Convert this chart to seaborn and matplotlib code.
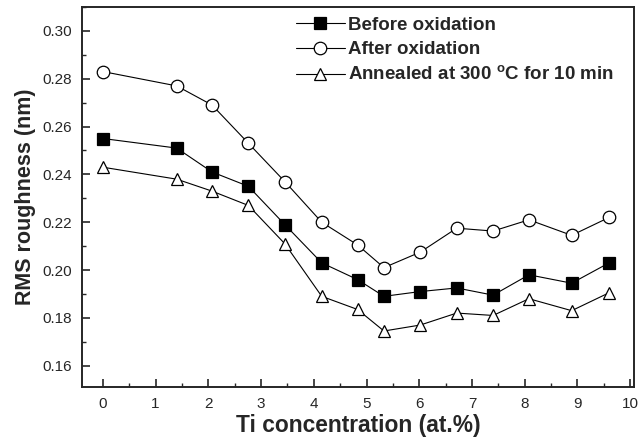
import matplotlib
matplotlib.use("Agg")
import matplotlib.pyplot as plt
import seaborn as sns
import pandas as pd
from matplotlib.ticker import MultipleLocator

ti = [0, 1.4, 2.07, 2.76, 3.45, 4.15, 4.83, 5.33, 6.02, 6.71, 7.4, 8.08, 8.89, 9.6]
before = [0.255, 0.251, 0.241, 0.235, 0.219, 0.203, 0.196, 0.189, 0.191, 0.1925, 0.1895, 0.198, 0.1945, 0.203]
after = [0.283, 0.277, 0.269, 0.253, 0.237, 0.220, 0.2105, 0.201, 0.2075, 0.2175, 0.2163, 0.221, 0.2145, 0.222]
annealed = [0.243, 0.238, 0.233, 0.227, 0.211, 0.189, 0.1835, 0.1745, 0.177, 0.182, 0.181, 0.188, 0.183, 0.1905]
labels = ["Before oxidation", "After oxidation", "Annealed at 300 $^\\mathregular{o}$C for 10 min"]

sns.set_style("ticks")
plt.rcParams['font.family'] = ['Liberation Sans', 'DejaVu Sans']

fig = plt.figure(figsize=(6.39, 4.38), dpi=100)
ax = fig.add_axes([0.128, 0.116, 0.864, 0.868])

series = [
    (before, labels[0], "s", "black"),
    (after, labels[1], "o", "white"),
    (annealed, labels[2], "^", "white"),
]
for vals, lab, mk, fc in series:
    df = pd.DataFrame({"x": ti, "y": vals})
    sns.lineplot(data=df, x="x", y="y", ax=ax, color="black", linewidth=0.8,
                 marker=mk, markersize=9 if mk != "s" else 8, markerfacecolor=fc,
                 markeredgecolor="black", markeredgewidth=0.9, label=lab)

ax.set_xlim(-0.4, 10.07)
ax.set_ylim(0.151, 0.310)
ax.xaxis.set_major_locator(MultipleLocator(1))
ax.xaxis.set_minor_locator(MultipleLocator(0.5))
ax.yaxis.set_major_locator(MultipleLocator(0.02))
ax.yaxis.set_minor_locator(MultipleLocator(0.01))
ax.yaxis.set_major_formatter(matplotlib.ticker.FormatStrFormatter('%.2f'))
ax.tick_params(which="major", direction="in", length=6, width=1.2, labelsize=11, pad=7)
ax.tick_params(which="minor", direction="in", length=3, width=1.0)
for s in ax.spines.values():
    s.set_linewidth(1.4)

ax.set_xlabel("Ti concentration (at.%)", fontsize=16.4, fontweight="bold", labelpad=2)
ax.set_ylabel("RMS roughness (nm)", fontsize=15.5, fontweight="bold", labelpad=5)

leg = ax.legend(loc="upper left", frameon=False, prop={"weight": "bold", "size": 13.5},
                handlelength=2.6, handletextpad=0.15, labelspacing=0.4,
                bbox_to_anchor=(0.388, 0.975), borderaxespad=0, borderpad=0)

fig.savefig("out.png", dpi=100)
